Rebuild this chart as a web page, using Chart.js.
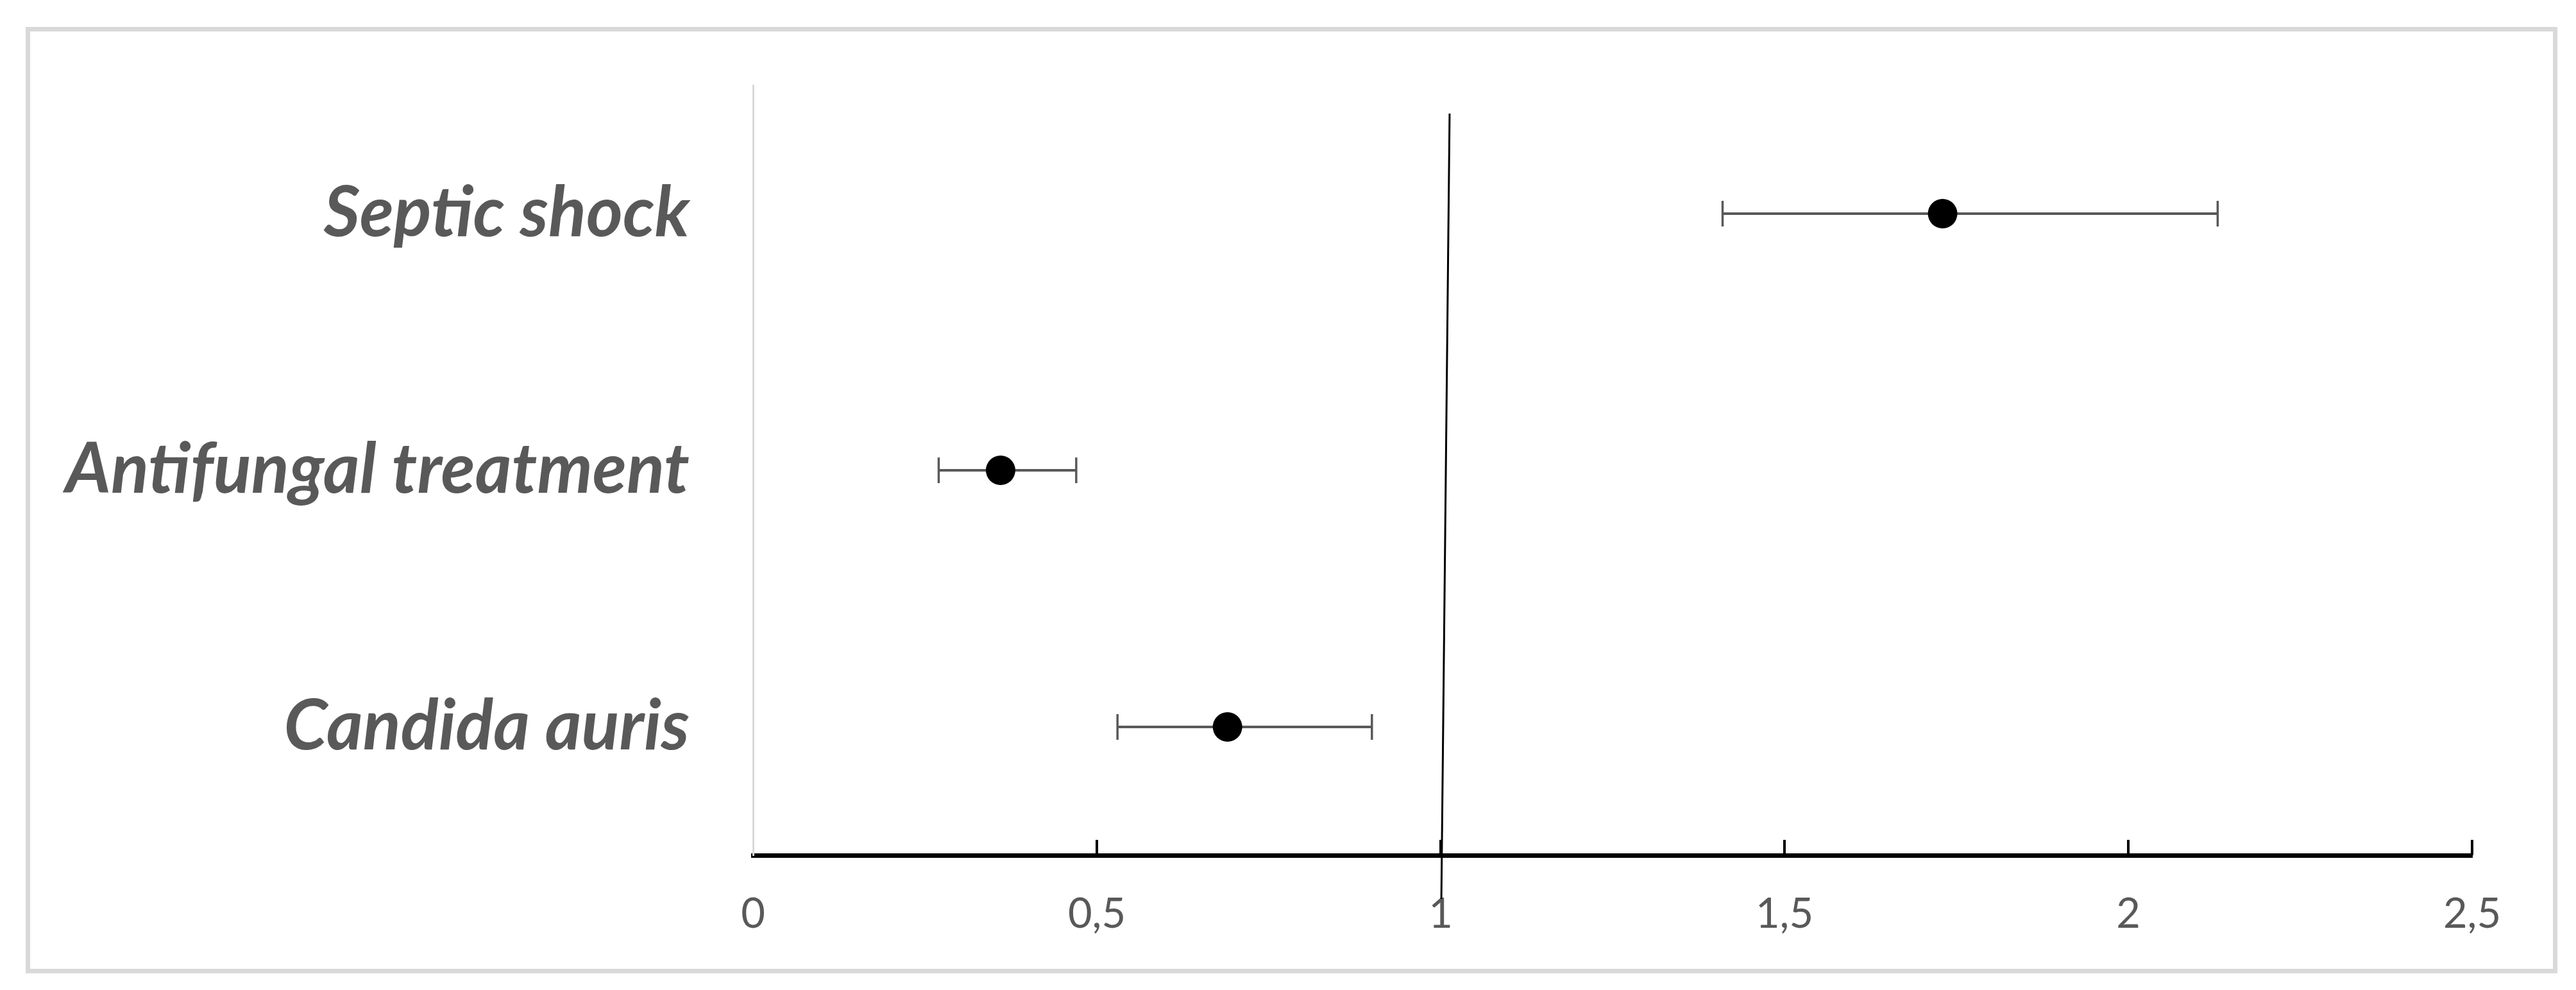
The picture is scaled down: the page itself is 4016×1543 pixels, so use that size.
<!DOCTYPE html>
<html>
<head>
<meta charset="utf-8">
<script src="https://cdn.jsdelivr.net/npm/chart.js@4/dist/chart.umd.min.js"></script>
<style>
  html, body { margin: 0; padding: 0; background: #fff; }
  canvas { display: block; }
</style>
</head>
<body>
<canvas id="forest" width="4016" height="1543"></canvas>
<script>
// categories from bottom to top (y = 1, 2, 3)
const categories = ['Candida auris', 'Antifungal treatment', 'Septic shock'];
const estimates = [0.69, 0.36, 1.73];
const lowerCI = [0.53, 0.27, 1.41];
const upperCI = [0.90, 0.47, 2.13];
const xTicks = [0, 0.5, 1, 1.5, 2, 2.5];
// reference line at 1 (slightly tilted in the original)
const refLine = [{ x: 1.013, y: 3.39 }, { x: 1.001, y: 0.33 }];

const grey = '#595959';

// one little dataset per error bar, caps are rotated line points
const errorBars = categories.map((c, i) => ({
  type: 'line',
  data: [{ x: lowerCI[i], y: i + 1 }, { x: upperCI[i], y: i + 1 }],
  borderColor: grey,
  borderWidth: 4,
  pointStyle: 'line',
  pointRotation: 90,
  pointRadius: 20,
  pointBorderWidth: 3.5,
  pointBorderColor: grey,
  showLine: true,
  order: 2
}));

// frame + small tick marks above the x axis
const extras = {
  id: 'extras',
  beforeDraw(chart) {
    const ctx = chart.ctx;
    ctx.save();
    ctx.fillStyle = '#fff';
    ctx.fillRect(0, 0, chart.width, chart.height);
    ctx.strokeStyle = '#d9d9d9';
    ctx.lineWidth = 7;
    ctx.strokeRect(43.5, 45.5, 3940, 1468);
    ctx.restore();
  },
  afterDatasetsDraw(chart) {
    const ctx = chart.ctx;
    const xs = chart.scales.x;
    const yb = chart.chartArea.bottom;
    ctx.save();
    ctx.strokeStyle = '#000';
    ctx.lineWidth = 4;
    xTicks.forEach(v => {
      if (v === 0) return;
      const px = xs.getPixelForValue(v);
      ctx.beginPath();
      ctx.moveTo(px, yb);
      ctx.lineTo(px, yb - 24);
      ctx.stroke();
    });
    ctx.restore();
  }
};

Chart.defaults.font.family = 'Lato';

const chart = new Chart(document.getElementById('forest').getContext('2d'), {
  type: 'scatter',
  data: {
    datasets: [
      {
        type: 'line',
        data: refLine,
        borderColor: '#000',
        borderWidth: 3,
        pointRadius: 0,
        showLine: true,
        clip: false,
        order: 3
      },
      ...errorBars,
      {
        data: estimates.map((v, i) => ({ x: v, y: i + 1 })),
        backgroundColor: '#000',
        borderWidth: 0,
        pointRadius: 23,
        order: 1
      }
    ]
  },
  options: {
    responsive: false,
    devicePixelRatio: 1,
    animation: false,
    layout: { padding: { left: 0, top: 133, right: 162, bottom: 0 } },
    plugins: { legend: { display: false }, tooltip: { enabled: false } },
    scales: {
      x: {
        type: 'linear',
        min: 0,
        max: 2.5,
        afterFit: s => { s.height = 210; },
        afterBuildTicks: s => { s.ticks = xTicks.map(v => ({ value: v })); },
        grid: { display: false, drawTicks: false },
        border: { display: true, color: '#000', width: 7 },
        ticks: {
          padding: 53,
          color: grey,
          font: { size: 65 },
          callback: v => String(v).replace('.', ',')
        }
      },
      y: {
        type: 'linear',
        min: 0.5,
        max: 3.5,
        afterFit: s => { s.width = 1174; s.paddingTop = 0; s.paddingBottom = 0; },
        afterBuildTicks: s => { s.ticks = categories.map((c, i) => ({ value: i + 1 })); },
        grid: { display: false, drawTicks: false },
        border: { display: true, color: '#d9d9d9', width: 3 },
        ticks: {
          padding: 99,
          color: grey,
          font: { size: 109, weight: 'bold', style: 'italic' },
          callback: v => categories[v - 1]
        }
      }
    }
  },
  plugins: [extras]
});
</script>
</body>
</html>
